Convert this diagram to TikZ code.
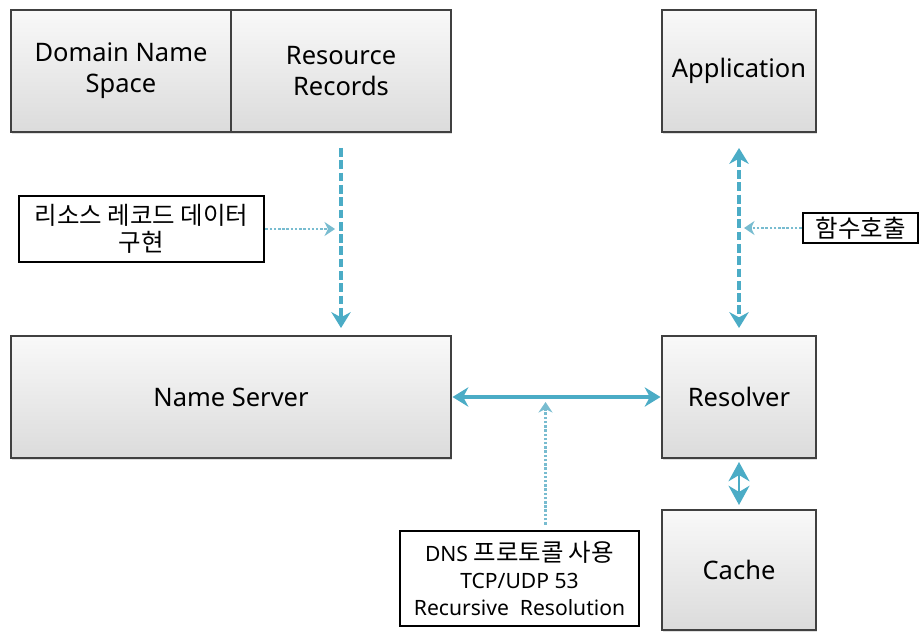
\documentclass[tikz,border=0pt]{standalone}
\usepackage{fontspec}
\setmainfont{Noto Sans}
\newfontfamily\kr[Scale=1.16]{Noto Sans CJK KR}
\usetikzlibrary{arrows.meta, positioning, shadows}
\definecolor{dnsteal}{RGB}{75,172,198}
\definecolor{dnsdot}{RGB}{120,188,208}
\definecolor{boxedge}{RGB}{64,64,64}

\begin{document}
\begin{tikzpicture}[
      >=Stealth,
      box/.style={
        rectangle, draw=boxedge, line width=0.6pt, top color=gray!5, bottom color=gray!28,
        minimum height=2.44cm, inner sep=0pt, outer sep=0pt, align=center,
        font=\fontsize{14.5}{17.5}\selectfont,
        drop shadow={opacity=0.25, shadow xshift=0.8pt, shadow yshift=-1.2pt}
      },
      note/.style={
        rectangle, draw=black, line width=1.6pt, fill=white, align=center,
        inner sep=0pt, font=\fontsize{12}{15.5}\selectfont
      },
      dashlink/.style={draw=dnsteal, line width=1.8pt, dash pattern=on 5pt off 2pt},
      dotlink/.style={draw=dnsdot, line width=1.7pt, dash pattern=on 1.4pt off 1pt,
        -{Stealth[length=6pt,width=8pt]}},
      bigtip/.tip={Stealth[length=9pt,width=11pt]}
    ]
    \useasboundingbox (0,0) rectangle (18.4,-12.68);

    % upper row
    \node[box, minimum width=4.4cm] (dns) at (2.42,-1.42) {Domain Name\\Space};
    \node[box, minimum width=4.4cm, right=0pt of dns] (rr) {Resource\\Records};
    \node[box, minimum width=3.08cm] (app) at (14.78,-1.42) {Application};

    % servers
    \node[box, minimum width=8.8cm] (ns) at (4.62,-7.94) {Name Server};
    \node[box, minimum width=3.08cm] (res) at (14.78,-7.94) {Resolver};
    \node[box, minimum width=3.08cm, minimum height=2.4cm] (cache) at (14.78,-11.4) {Cache};

    % callouts
    \node[note, minimum width=4.9cm, minimum height=1.32cm] (impl) at (2.83,-4.58)
      {\kr 리소스 레코드 데이터\\\kr 구현};
    \node[note, minimum width=2.3cm, minimum height=0.6cm] (call) at (17.21,-4.56)
      {\kr 함수호출};
    \node[note, minimum width=4.78cm, minimum height=1.9cm] (proto) at (10.39,-11.57)
      {DNS {\kr 프로토콜 사용}\\TCP/UDP 53\\Recursive\ \ Resolution};

    % connectors
    \draw[dashlink, -bigtip, shorten <=0.32cm, shorten >=0.16cm]
      (rr.south) -- (rr.south |- ns.north);
    \draw[dashlink, bigtip-bigtip, shorten <=0.32cm, shorten >=0.16cm]
      (app.south) -- (res.north);
    \draw[draw=dnsteal, line width=1.8pt, bigtip-bigtip, shorten <=0.03cm, shorten >=0.03cm]
      (ns.east) -- (res.west);
    \draw[draw=dnsteal, line width=1.2pt, {Stealth[length=11pt,width=12pt]}-{Stealth[length=11pt,width=12pt]},
      shorten <=0.08cm, shorten >=0.1cm]
      (res.south) -- (cache.north);

    \coordinate (hitrr) at (rr.south |- impl.east);
    \coordinate (hitapp) at (app.south |- call.west);
    \coordinate (hitns) at ([xshift=0.52cm]proto.north |- ns.east);
    \draw[dotlink, shorten >=0.12cm] (impl.east) -- (hitrr);
    \draw[dotlink, shorten >=0.1cm] (call.west) -- (hitapp);
    \draw[dotlink, shorten <=0.1cm, shorten >=0.1cm] ([xshift=0.52cm]proto.north) -- (hitns);
  \end{tikzpicture}
\end{document}
